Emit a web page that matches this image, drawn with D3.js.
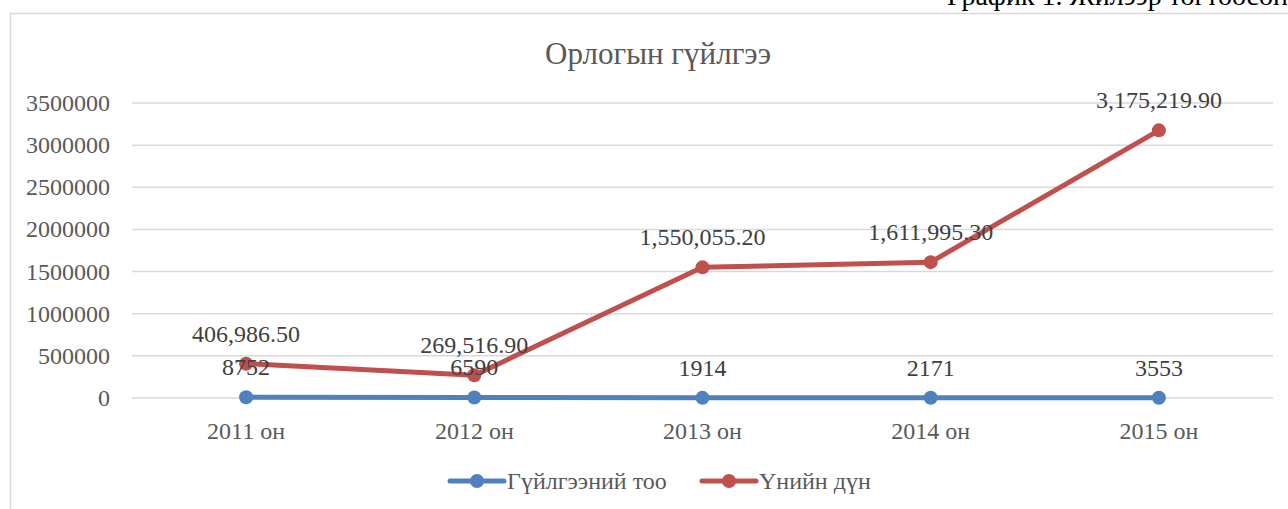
<!DOCTYPE html>
<html>
<head>
<meta charset="utf-8">
<script src="https://cdn.jsdelivr.net/npm/d3@7"></script>
<style>
  body { margin: 0; background: #fff; overflow: hidden; }
  svg { display: block; font-family: "Liberation Serif", "DejaVu Serif", serif; }
</style>
</head>
<body>
<svg id="chart" width="1288" height="509"></svg>
<script>
// chart data
const years = ["2011 он", "2012 он", "2013 он", "2014 он", "2015 он"];
const countValues = [8752, 6590, 1914, 2171, 3553];
const amountValues = [406986.5, 269516.9, 1550055.2, 1611995.3, 3175219.9];
const yTicks = [0, 500000, 1000000, 1500000, 2000000, 2500000, 3000000, 3500000];
const seriesNames = ["Гүйлгээний тоо", "Үнийн дүн"];
const colors = ["#4f81bd", "#c0504d"];

const svg = d3.select("#chart");

// caption of the document, cut at the top like in the source page
svg.append("text")
    .attr("x", 947).attr("y", 5)
    .attr("font-size", 28).attr("fill", "#000")
    .text("График 1. Жилээр тогтоосон");

// chart area border
svg.append("rect")
    .attr("x", 10.5).attr("y", 13.5)
    .attr("width", 1300).attr("height", 520)
    .attr("fill", "none").attr("stroke", "#d9d9d9").attr("stroke-width", 1.5);

const margin = { left: 132, right: 15, top: 103, bottom: 111 };
const width = 1288 - margin.left - margin.right;
const height = 509 - margin.top - margin.bottom;

const g = svg.append("g").attr("transform", `translate(${margin.left},${margin.top})`);

const x = d3.scaleBand().domain(years).range([0, width]);
const y = d3.scaleLinear().domain([0, 3500000]).range([height, 0]);

// title
svg.append("text")
    .attr("x", 658).attr("y", 64)
    .attr("text-anchor", "middle")
    .attr("font-size", 31).attr("fill", "#595959")
    .text("Орлогын гүйлгээ");

// gridlines
g.selectAll(".grid")
    .data(yTicks)
    .enter()
    .append("line")
    .attr("x1", 0).attr("x2", width)
    .attr("y1", d => y(d)).attr("y2", d => y(d))
    .attr("stroke", "#d9d9d9").attr("stroke-width", 1.5);

// y axis labels
g.selectAll(".ylab")
    .data(yTicks)
    .enter()
    .append("text")
    .attr("x", -22).attr("y", d => y(d) + 8)
    .attr("text-anchor", "end")
    .attr("font-size", 24).attr("fill", "#595959")
    .text(d => d);

// x axis labels
g.selectAll(".xlab")
    .data(years)
    .enter()
    .append("text")
    .attr("x", d => x(d) + x.bandwidth() / 2)
    .attr("y", height + 41)
    .attr("text-anchor", "middle")
    .attr("font-size", 24).attr("fill", "#595959")
    .text(d => d);

const cx = d => x(d) + x.bandwidth() / 2;
const line = d3.line().x(d => cx(d.year)).y(d => y(d.value));

const series = [countValues, amountValues].map((vals, i) => ({
    name: seriesNames[i],
    color: colors[i],
    points: vals.map((v, j) => ({ year: years[j], value: v }))
}));

series.forEach(s => {
    g.append("path")
        .datum(s.points)
        .attr("d", line)
        .attr("fill", "none")
        .attr("stroke", s.color)
        .attr("stroke-width", 5)
        .attr("stroke-linejoin", "round")
        .attr("stroke-linecap", "round");

    g.selectAll(null)
        .data(s.points)
        .enter()
        .append("circle")
        .attr("cx", d => cx(d.year))
        .attr("cy", d => y(d.value))
        .attr("r", 7)
        .attr("fill", s.color);
});

// data labels above each point
g.selectAll(".clab")
    .data(series[0].points)
    .enter()
    .append("text")
    .attr("x", d => cx(d.year))
    .attr("y", d => y(d.value) - 22)
    .attr("text-anchor", "middle")
    .attr("font-size", 24).attr("fill", "#404040")
    .text(d => d.value);

const fmt = d3.format(",.2f");
g.selectAll(".alab")
    .data(series[1].points)
    .enter()
    .append("text")
    .attr("x", d => cx(d.year))
    .attr("y", d => y(d.value) - 22)
    .attr("text-anchor", "middle")
    .attr("font-size", 24).attr("fill", "#404040")
    .text(d => fmt(d.value));

// legend
const legendX = [450, 702];
series.forEach((s, i) => {
    const lg = svg.append("g").attr("transform", `translate(${legendX[i]},481)`);
    lg.append("line")
        .attr("x1", 0).attr("x2", 54)
        .attr("stroke", s.color).attr("stroke-width", 5)
        .attr("stroke-linecap", "round");
    lg.append("circle").attr("cx", 27).attr("r", 7).attr("fill", s.color);
    lg.append("text")
        .attr("x", 57).attr("y", 8)
        .attr("font-size", 24).attr("fill", "#595959")
        .text(s.name);
});
</script>
</body>
</html>
